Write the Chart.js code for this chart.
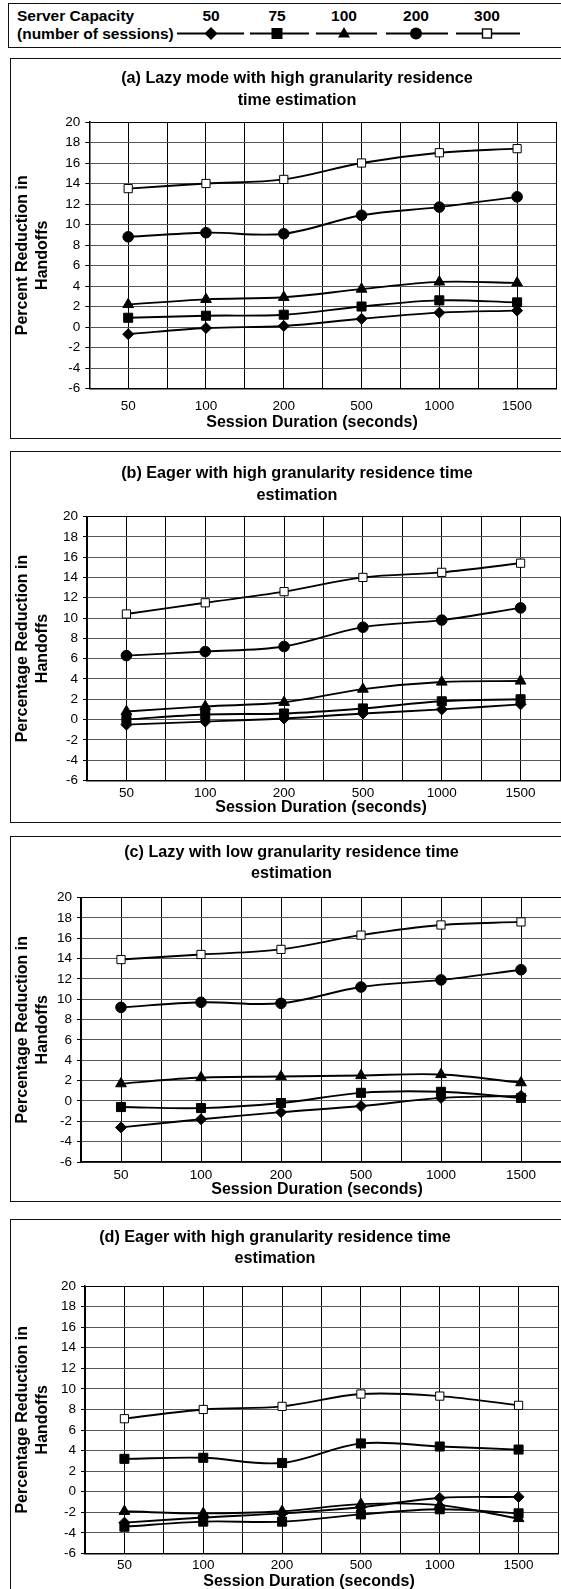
<!DOCTYPE html>
<html><head><meta charset="utf-8">
<script src="https://cdn.jsdelivr.net/npm/chart.js@4.4.0/dist/chart.umd.min.js"></script>
<style>
body{margin:0;width:561px;height:1589px;background:#fff;position:relative;overflow:hidden;font-family:'Liberation Sans',Arial,sans-serif;}
.box{position:absolute;border:1.5px solid #111;box-sizing:border-box;}
canvas{position:absolute;}
.lg{position:absolute;font-weight:bold;font-size:15.5px;line-height:18px;color:#000;white-space:nowrap;}
.num{transform:translateX(-50%);}
</style></head><body>
<script>
// ---------- data ----------
const durations = ['50','100','200','500','1000','1500'];
const capacities = ['50','75','100','200','300'];
const yTickVals = [-6,-4,-2,0,2,4,6,8,10,12,14,16,18,20];

// (a) Lazy mode, high granularity
const a50  = [-0.7,-0.1, 0.1, 0.8, 1.4, 1.6];
const a75  = [ 0.9, 1.1, 1.2, 2.0, 2.6, 2.4];
const a100 = [ 2.2, 2.7, 2.9, 3.7, 4.4, 4.3];
const a200 = [ 8.8, 9.2, 9.1,10.9,11.7,12.7];
const a300 = [13.5,14.0,14.4,16.0,17.0,17.4];
// (b) Eager, high granularity
const b50  = [-0.5,-0.2, 0.1, 0.6, 1.0, 1.5];
const b75  = [ 0.0, 0.5, 0.6, 1.1, 1.8, 2.0];
const b100 = [ 0.8, 1.3, 1.7, 3.0, 3.7, 3.8];
const b200 = [ 6.3, 6.7, 7.2, 9.1, 9.8,11.0];
const b300 = [10.4,11.5,12.6,14.0,14.5,15.4];
// (c) Lazy, low granularity
const c50  = [-2.6,-1.8,-1.1,-0.5, 0.3, 0.5];
const c75  = [-0.6,-0.7,-0.2, 0.8, 0.9, 0.3];
const c100 = [ 1.7, 2.3, 2.4, 2.5, 2.6, 1.8];
const c200 = [ 9.2, 9.7, 9.6,11.2,11.9,12.9];
const c300 = [13.9,14.4,14.9,16.3,17.3,17.6];
// (d) Eager, high granularity
const d50  = [-3.0,-2.5,-2.1,-1.5,-0.6,-0.5];
const d75  = [-3.4,-2.9,-2.9,-2.2,-1.7,-2.1];
const d100 = [-1.9,-2.1,-1.9,-1.2,-1.3,-2.6];
const d200 = [ 3.2, 3.3, 2.8, 4.7, 4.4, 4.1];
const d300 = [ 7.1, 8.0, 8.3, 9.5, 9.3, 8.4];

const titleA = ['(a) Lazy mode with high granularity residence','time estimation'];
const titleB = ['(b) Eager with high granularity residence time','estimation'];
const titleC = ['(c) Lazy with low granularity residence time','estimation'];
const titleD = ['(d) Eager with high granularity residence time','estimation'];
const yTitleA = ['Percent Reduction in','Handoffs'];
const yTitleB = ['Percentage Reduction in','Handoffs'];
const xTitle = 'Session Duration (seconds)';

// ---------- layout / style ----------
const FONT = "'Liberation Sans', Arial, sans-serif";
const baseStyles = [
  {ps:'rectRot', r:5.5, fill:'#000'},
  {ps:'rect', r:6.4, fill:'#000'},
  {ps:'triangle', r:6.2, fill:'#000'},
  {ps:'circle', r:5.3, fill:'#000'},
  {ps:'rect', r:5.8, fill:'#fff'}
];
const stylesD = baseStyles.map((s,i)=> i===3 ? {ps:'rect', r:6.4, fill:'#000'} : s);

function addBox(x,y,w,h){
  const d=document.createElement('div'); d.className='box';
  d.style.left=x+'px'; d.style.top=y+'px'; d.style.width=w+'px'; d.style.height=h+'px';
  document.body.appendChild(d);
}

// draws the panel title and the x-axis title as canvas text
const panelText = {
  id:'panelText',
  afterDraw(chart, args, opts){
    const ctx=chart.ctx;
    ctx.save();
    ctx.fillStyle='#000'; ctx.textAlign='center'; ctx.textBaseline='middle';
    (opts.items||[]).forEach(it=>{ctx.font=it.font; ctx.fillText(it.text,it.x,it.y);});
    ctx.restore();
  }
};

const TFS=16.2, TLH=21.5, YFS=16, YLH=20, XFS=16;

function makeChart(g, titleLines, yTitleLines, series, styles){
  addBox(g.bx, g.by, 580 - g.bx, g.bh);
  const cw=600-g.cx;
  const cv=document.createElement('canvas');
  cv.width=cw; cv.height=g.ch;
  cv.style.left=g.cx+'px'; cv.style.top=g.cy+'px';
  document.body.appendChild(cv);
  const plotL=g.pl-g.cx, plotR=g.pr-g.cx, plotT=g.pt-g.cy, plotB=g.pb-g.cy;
  const yPad=(g.yt1-g.cx)-YLH/2;
  const tfont=`bold ${TFS}px ${FONT}`;
  const items=[
    {text:titleLines[0],x:g.tx-g.cx,y:g.t1-g.cy,font:tfont},
    {text:titleLines[1],x:g.tx-g.cx,y:g.t1-g.cy+TLH,font:tfont},
    {text:xTitle,x:g.xtx-g.cx,y:g.xt-g.cy,font:`bold ${XFS}px ${FONT}`}
  ];
  new Chart(cv,{
    type:'line',
    data:{datasets: series.map((vals,i)=>({
      label:capacities[i],
      data: vals.map((v,j)=>({x:j,y:v})),
      borderColor:'#000', borderWidth:1.9, tension:0.35,
      pointStyle:styles[i].ps, pointRadius:styles[i].r,
      pointBackgroundColor:styles[i].fill, pointBorderColor:'#000', pointBorderWidth:1,
      fill:false
    }))},
    plugins:[panelText],
    options:{
      responsive:false, animation:false, devicePixelRatio:1,
      layout:{padding:{left:0,right:cw-plotR,top:plotT,bottom:0}},
      plugins:{
        legend:{display:false}, tooltip:{enabled:false}, title:{display:false},
        panelText:{items}
      },
      scales:{
        x:{type:'linear',min:-0.5,max:5.5,
          afterBuildTicks:s=>{const t=[];for(let k=-1;k<=11;k++)t.push({value:k/2});s.ticks=t;},
          afterFit:s=>{s.height=g.ch-plotB;},
          ticks:{autoSkip:false,maxRotation:0,minRotation:0,padding:g.xlp,color:'#000',
            font:{family:FONT,size:13.5},
            callback:v=>Number.isInteger(v)&&v>=0&&v<durations.length?durations[v]:''},
          grid:{color:'#000',lineWidth:1,drawTicks:false},
          border:{color:'#000',width:1.5}
        },
        y:{min:-6,max:20,
          afterBuildTicks:s=>{s.ticks=yTickVals.map(v=>({value:v}));},
          afterFit:s=>{s.width=plotL;},
          ticks:{padding:5,color:'#000',font:{family:FONT,size:13.5}},
          grid:{color:c=>c.tick&&c.tick.value===20?'#000':'#555',lineWidth:1,tickLength:4,tickColor:'#000'},
          border:{color:'#000',width:1.5},
          title:{display:true,text:yTitleLines,color:'#000',
            font:{family:FONT,size:YFS,weight:'bold',lineHeight:YLH/YFS},
            padding:{top:yPad,bottom:0}}
        }
      }
    }
  });
}

// legend
addBox(8,3,580,45);
function lgText(txt,x,y,cls){const d=document.createElement('div');d.className='lg'+(cls?' '+cls:'');d.textContent=txt;d.style.left=x+'px';d.style.top=(y-9)+'px';document.body.appendChild(d);}
lgText('Server Capacity',17,15.5);
lgText('(number of sessions)',17,33.5);
const lgX=[211,277,344,416,487];
capacities.forEach((c,i)=>lgText(c,lgX[i],15.5,'num'));
const segs=[[177,244],[250,309],[316,377],[386,448],[456,520]];
const cy=33.5;
let svg='<svg xmlns="http://www.w3.org/2000/svg" width="561" height="60" style="position:absolute;left:0;top:0">';
segs.forEach(s=>{svg+=`<line x1="${s[0]}" y1="${cy}" x2="${s[1]}" y2="${cy}" stroke="#000" stroke-width="1.9"/>`;});
svg+=`<polygon points="${lgX[0]-6.5},${cy} ${lgX[0]},${cy-6.5} ${lgX[0]+6.5},${cy} ${lgX[0]},${cy+6.5}" fill="#000"/>`;
svg+=`<rect x="${lgX[1]-5.5}" y="${cy-5.5}" width="11" height="11" fill="#000"/>`;
svg+=`<polygon points="${lgX[2]},${cy-6.5} ${lgX[2]+6},${cy+4} ${lgX[2]-6},${cy+4}" fill="#000"/>`;
svg+=`<circle cx="${lgX[3]}" cy="${cy}" r="6" fill="#000"/>`;
svg+=`<rect x="${lgX[4]-4.5}" y="${cy-4.5}" width="9" height="9" fill="#fff" stroke="#000" stroke-width="1.4"/>`;
svg+='</svg>';
document.body.insertAdjacentHTML('beforeend',svg);

// panels
makeChart({bx:10,by:58,bh:381,cx:12,cy:60,ch:378,pl:89.3,pr:556,pt:122,pb:388.5,t1:79,tx:297,yt1:23,xt:422.5,xtx:312,xlp:9.5},
  titleA,yTitleA,[a50,a75,a100,a200,a300],baseStyles);
makeChart({bx:10,by:451,bh:372,cx:12,cy:453,ch:368,pl:87,pr:560,pt:516.5,pb:780.5,t1:474,tx:297,yt1:23,xt:808,xtx:321,xlp:4.5},
  titleB,yTitleB,[b50,b75,b100,b200,b300],baseStyles);
makeChart({bx:10,by:836,bh:366,cx:12,cy:838,ch:362,pl:81,pr:561,pt:897.5,pb:1162,t1:852.5,tx:291.5,yt1:23,xt:1190,xtx:317,xlp:5},
  titleC,yTitleB,[c50,c75,c100,c200,c300],baseStyles);
makeChart({bx:10,by:1219,bh:400,cx:12,cy:1221,ch:368,pl:85,pr:558,pt:1286,pb:1553.5,t1:1237.5,tx:275,yt1:23,xt:1582,xtx:309,xlp:3.5},
  titleD,yTitleB,[d50,d75,d100,d200,d300],stylesD);
</script>
</body></html>
